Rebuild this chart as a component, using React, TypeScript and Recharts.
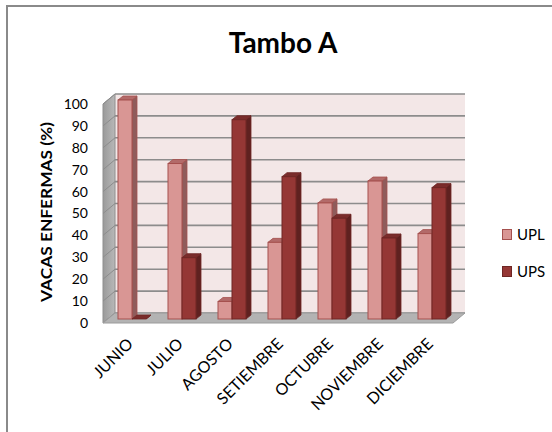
import React from "react";
import { BarChart, Bar, XAxis, YAxis, ReferenceArea } from "recharts";

const months = ["JUNIO", "JULIO", "AGOSTO", "SETIEMBRE", "OCTUBRE", "NOVIEMBRE", "DICIEMBRE"];
const uplValues = [100, 71, 8, 35, 53, 63, 39];
const upsValues = [0, 28, 91, 65, 46, 37, 60];
const yTicks = [0, 10, 20, 30, 40, 50, 60, 70, 80, 90, 100];

const data = months.map((month, i) => ({ month, UPL: uplValues[i], UPS: upsValues[i] }));

const FONT = "Lato, 'Open Sans', sans-serif";

// depth of the box (back wall vs front plane) and of each bar
const WALL_DX = 12;
const WALL_DY = -10;
const BAR_OFF_X = 4;
const BAR_OFF_Y = -4;
const BAR_DX = 5;
const BAR_DY = -4;

const Walls = (props: any) => {
  const { x, y, width, height } = props;
  const x0 = x;
  const x1 = x + width;
  const yTop = y;
  const yBot = y + height;
  const gridY = yTicks.map((t) => yBot - (height * t) / 100);
  return (
    <g>
      <defs>
        <linearGradient id="leftWall" x1="0" y1="0" x2="1" y2="0">
          <stop offset="0%" stopColor="#9a9a9a" />
          <stop offset="100%" stopColor="#b8b8b8" />
        </linearGradient>
      </defs>
      <rect
        x={x0 + WALL_DX}
        y={yTop + WALL_DY}
        width={width}
        height={height}
        fill="#F3E7E7"
      />
      <polygon
        points={`${x0},${yTop} ${x0 + WALL_DX},${yTop + WALL_DY} ${x0 + WALL_DX},${yBot + WALL_DY} ${x0},${yBot}`}
        fill="url(#leftWall)"
        stroke="#8f8f8f"
        strokeWidth={1}
      />
      {gridY.map((gy, i) => (
        <g key={i}>
          <line
            x1={x0 + WALL_DX}
            y1={gy + WALL_DY}
            x2={x1 + WALL_DX}
            y2={gy + WALL_DY}
            stroke="#8c8c8c"
            strokeWidth={1.6}
          />
          <line
            x1={x0}
            y1={gy}
            x2={x0 + WALL_DX}
            y2={gy + WALL_DY}
            stroke="#8c8c8c"
            strokeWidth={1}
          />
        </g>
      ))}
      <polygon
        points={`${x0},${yBot} ${x0 + WALL_DX},${yBot + WALL_DY} ${x1 + WALL_DX},${yBot + WALL_DY} ${x1},${yBot}`}
        fill="#b3b3b3"
        stroke="#9a9a9a"
        strokeWidth={1}
      />
    </g>
  );
};

const makeBar3D = (front: string, side: string, top: string, edge: string) => (props: any) => {
  const { x, y, width, height } = props;
  if (x == null || y == null) return null;
  const fx = x + BAR_OFF_X;
  const fy = y + BAR_OFF_Y;
  const h = Math.max(height, 0);
  return (
    <g>
      <polygon
        points={`${fx + width},${fy} ${fx + width + BAR_DX},${fy + BAR_DY} ${fx + width + BAR_DX},${fy + h + BAR_DY} ${fx + width},${fy + h}`}
        fill={side}
        stroke={edge}
        strokeWidth={0.8}
      />
      <polygon
        points={`${fx},${fy} ${fx + width},${fy} ${fx + width + BAR_DX},${fy + BAR_DY} ${fx + BAR_DX},${fy + BAR_DY}`}
        fill={top}
        stroke={edge}
        strokeWidth={0.8}
      />
      <rect x={fx} y={fy} width={width} height={h} fill={front} stroke={edge} strokeWidth={1} />
    </g>
  );
};

const UplShape = makeBar3D("#D99694", "#8f5c5b", "#b36a69", "#a5504e");
const UpsShape = makeBar3D("#953735", "#5f2120", "#7a2c2b", "#6e2624");

const MonthTick = (props: any) => {
  const { x, y, payload } = props;
  const ax = x + 6;
  const ay = y + 22;
  return (
    <text
      x={ax}
      y={ay}
      textAnchor="end"
      transform={`rotate(-45, ${ax}, ${ay})`}
      fontFamily={FONT}
      fontSize={16}
      fill="#000"
    >
      {payload.value}
    </text>
  );
};

const legendItems = [
  { name: "UPL", color: "#D99694", edge: "#a5504e" },
  { name: "UPS", color: "#953735", edge: "#6e2624" },
];

export default function App() {
  return (
    <div
      style={{
        position: "fixed",
        left: 0,
        top: 0,
        width: 552,
        height: 432,
        background: "#fff",
        fontFamily: FONT,
      }}
    >
      <div
        style={{
          position: "absolute",
          left: 6,
          top: 5,
          width: 546,
          height: 427,
          borderTop: "2px solid #8a8a8a",
          borderLeft: "2px solid #8a8a8a",
        }}
      />
      <svg
        width={552}
        height={432}
        style={{ position: "absolute", left: 0, top: 0 }}
        fontFamily={FONT}
      >
        <text x={283} y={53} textAnchor="middle" fontSize={28} fontWeight={700} fill="#000">
          Tambo A
        </text>
        <text
          x={52}
          y={302}
          textAnchor="start"
          transform="rotate(-90, 52, 302)"
          fontSize={16}
          fontWeight={700}
          textLength={180}
          lengthAdjust="spacingAndGlyphs"
          fill="#000"
        >
          VACAS ENFERMAS (%)
        </text>
      </svg>
      <div style={{ position: "absolute", left: 502, top: 224 }}>
        {legendItems.map((item) => (
          <div
            key={item.name}
            style={{ display: "flex", alignItems: "center", height: 20, marginBottom: 17, fontSize: 15 }}
          >
            <span
              style={{
                display: "inline-block",
                width: 8,
                height: 9,
                background: item.color,
                border: `1px solid ${item.edge}`,
                marginRight: 5,
              }}
            />
            <span>{item.name}</span>
          </div>
        ))}
      </div>
      <div style={{ position: "absolute", left: 0, top: 0 }}>
        <BarChart
          width={552}
          height={432}
          data={data}
          margin={{ top: 104, right: 99, bottom: 49, left: 63 }}
          barGap={0}
          barSize={14}
        >
          <XAxis
            dataKey="month"
            height={60}
            axisLine={false}
            tickLine={false}
            tickSize={0}
            tickMargin={0}
            interval={0}
            tick={<MonthTick />}
          />
          <YAxis
            width={40}
            domain={[0, 100]}
            ticks={yTicks}
            axisLine={false}
            tickLine={false}
            tickSize={0}
            tickMargin={15}
            tick={{ fill: "#000", fontSize: 14, fontFamily: FONT }}
          />
          <ReferenceArea y1={0} y2={100} shape={<Walls />} ifOverflow="extendDomain" />
          <Bar dataKey="UPL" shape={<UplShape />} isAnimationActive={false} />
          <Bar dataKey="UPS" shape={<UpsShape />} isAnimationActive={false} />
        </BarChart>
      </div>
    </div>
  );
}
